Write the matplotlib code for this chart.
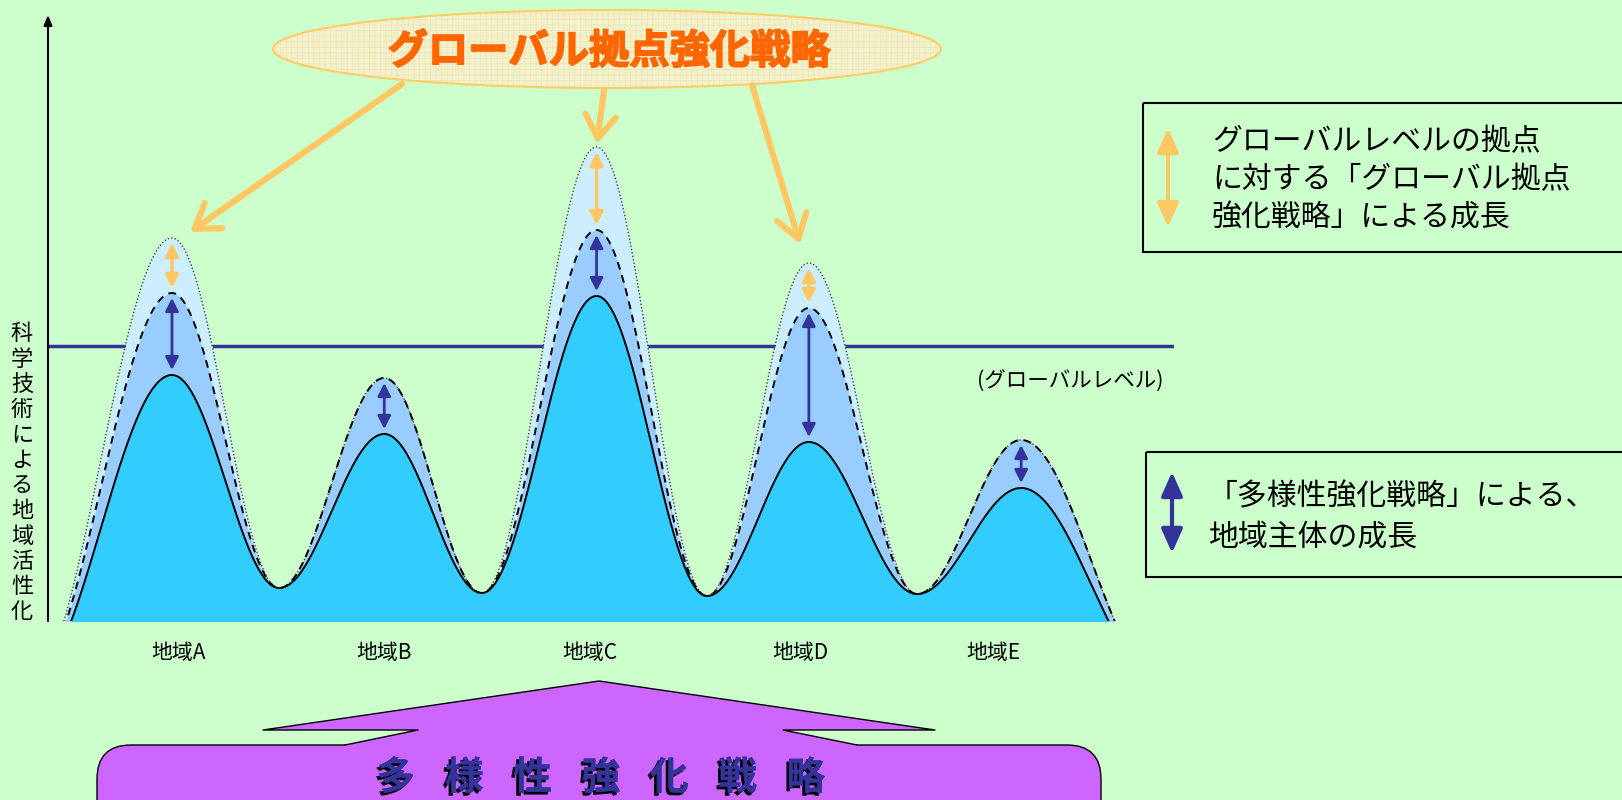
import numpy as np
import matplotlib
matplotlib.use("Agg")
import matplotlib.pyplot as plt
from matplotlib.patches import Ellipse, Rectangle, FancyBboxPatch, Polygon
import matplotlib.patheffects as pe

plt.rcParams['font.family'] = ['Noto Sans CJK JP', 'DejaVu Sans']
plt.rcParams['hatch.linewidth'] = 0.5

# regional activity levels (arbitrary units), peaks at region index 0..4
regions = ["地域A", "地域B", "地域C", "地域D", "地域E"]
peak_x = [0, 1, 2, 3, 4]
label_x = [0.03, 1.0, 1.97, 2.96, 3.87]
base_level = [24.6, 18.7, 32.5, 17.9, 13.3]       # current (solid)
diversity_level = [32.8, 24.3, 39.1, 31.3, 18.1]  # + diversity strategy (dashed)
global_hub_level = [38.3, 24.3, 47.4, 35.8, 18.1] # + global hub strategy (dotted)
valley_x = [0.505, 1.46, 2.52, 3.51]
valley_y = [3.3, 2.8, 2.5, 2.7]
edge_x = [-0.67, 4.66]
edge_y = -6
global_level = 27.5

BG = "#CCFFCC"
NAVY = "#333399"
ORANGE = "#FFC864"


def ridge(peaks, n=1500):
    kx = [edge_x[0]]
    ky = [edge_y]
    for i in range(len(peaks)):
        kx.append(peak_x[i])
        ky.append(peaks[i])
        if i < len(valley_x):
            kx.append(valley_x[i])
            ky.append(valley_y[i])
    kx.append(edge_x[1])
    ky.append(edge_y)
    kx = np.array(kx)
    ky = np.array(ky)
    x = np.linspace(kx[0], kx[-1], n)
    seg = np.clip(np.searchsorted(kx, x) - 1, 0, len(kx) - 2)
    t = (x - kx[seg]) / (kx[seg + 1] - kx[seg])
    y = ky[seg] + (ky[seg + 1] - ky[seg]) * (1 - np.cos(np.pi * t)) / 2
    return x, y


fig = plt.figure(figsize=(16.22, 8.0), dpi=100, facecolor=BG)

# main chart axes (pixel placement of the original)
ax = fig.add_axes([48 / 1622, 179 / 800, 1126 / 1622, 606 / 800])
ax.set_facecolor("none")
ax.set_xlim(-0.584, 4.72)
ax.set_ylim(0, 60.6)
for s in ax.spines.values():
    s.set_visible(False)
ax.set_yticks([])
ax.set_xticks(label_x)
ax.set_xticklabels(regions, fontsize=15)
ax.tick_params(axis="x", length=0, pad=15)

xg, yg = ridge(global_hub_level)
xd, yd = ridge(diversity_level)
xs, ys = ridge(base_level)
ax.fill_between(xg, yg, -10, color="#CCEEFF", lw=0, zorder=1)
ax.fill_between(xd, yd, -10, color="#99CCFF", lw=0, zorder=2)
ax.fill_between(xs, ys, -10, color="#33CCFF", lw=0, zorder=3)
ax.plot(xg, yg, color="#444444", lw=1, ls=(0, (1, 1.5)), zorder=4)
ax.plot(xd, yd, color="black", lw=1.4, ls=(0, (4, 3)), zorder=4)
ax.plot(xs, ys, color="black", lw=1.4, zorder=4)

ax.axhline(global_level, color=NAVY, lw=2.5, zorder=0.5)

# y axis with arrow head
ax.annotate("", xy=(0, 1), xytext=(0, 0), xycoords="axes fraction",
            arrowprops=dict(arrowstyle="-|>,head_length=0.6,head_width=0.25",
                            color="black", lw=1.5, shrinkA=0, shrinkB=0))

# growth arrows on each peak
gap = 0.5
small = "<|-|>,head_length=0.55,head_width=0.28"
for i in range(len(peak_x)):
    if global_hub_level[i] - diversity_level[i] > 1:
        ax.annotate("", xy=(peak_x[i], diversity_level[i] + gap),
                    xytext=(peak_x[i], global_hub_level[i] - gap),
                    arrowprops=dict(arrowstyle=small, color=ORANGE, lw=2.5,
                                    shrinkA=0, shrinkB=0, mutation_scale=14), zorder=5)
    ax.annotate("", xy=(peak_x[i], base_level[i] + gap),
                xytext=(peak_x[i], diversity_level[i] - gap),
                arrowprops=dict(arrowstyle=small, color=NAVY, lw=2,
                                shrinkA=0, shrinkB=0, mutation_scale=14), zorder=5)

# overlay in pixel coordinates for the annotations
ov = fig.add_axes([0, 0, 1, 1], zorder=5)
ov.set_xlim(0, 1622)
ov.set_ylim(800, 0)
ov.axis("off")
ov.patch.set_alpha(0)

for ch, yy in zip("科学技術による地域活性化", np.linspace(334, 612, 12)):
    ov.text(22, yy, ch, fontsize=16, ha="center", va="center")

ov.text(1070, 381, "(グローバルレベル)", fontsize=15.5, ha="center", va="center")

# title ellipse
ov.add_patch(Ellipse((607, 49), 668, 78, facecolor="#EDF3CC", edgecolor="#FFDDB0",
                     hatch="+++", lw=0))
ov.add_patch(Ellipse((607, 49), 668, 78, facecolor="none", edgecolor="#FFCC66", lw=1.5))
ov.text(609, 52, "グローバル拠点強化戦略", fontsize=29, fontweight="bold",
        color="#FF6600", ha="center", va="center",
        path_effects=[pe.withStroke(linewidth=1.2, foreground="#FF6600")])

pointer = dict(arrowstyle="->,head_length=0.75,head_width=0.5", color=ORANGE,
               lw=4.5, shrinkA=0, shrinkB=0, mutation_scale=22)
ov.annotate("", xy=(190, 232), xytext=(402, 84), arrowprops=pointer)
ov.annotate("", xy=(597, 144), xytext=(604, 90), arrowprops=pointer)
ov.annotate("", xy=(800, 244), xytext=(752, 85), arrowprops=pointer)

# legend boxes
ov.add_patch(Rectangle((1143, 103), 520, 149, facecolor="none", edgecolor="black", lw=1.5))
ov.annotate("", xy=(1168, 227), xytext=(1168, 128),
            arrowprops=dict(arrowstyle="<|-|>,head_length=0.9,head_width=0.4",
                            color=ORANGE, lw=3, shrinkA=0, shrinkB=0, mutation_scale=16))
for txt, yy in zip(["グローバルレベルの拠点", "に対する「グローバル拠点", "強化戦略」による成長"],
                   [142, 180, 218]):
    ov.text(1212, yy, txt, fontsize=21.5, ha="left", va="center")

ov.add_patch(Rectangle((1146, 452), 520, 125, facecolor="none", edgecolor="black", lw=1.5))
ov.annotate("", xy=(1172, 553), xytext=(1172, 472),
            arrowprops=dict(arrowstyle="<|-|>,head_length=0.9,head_width=0.4",
                            color=NAVY, lw=3, shrinkA=0, shrinkB=0, mutation_scale=16))
for txt, yy in zip(["「多様性強化戦略」による、", "地域主体の成長"], [497, 537]):
    ov.text(1208, yy, txt, fontsize=21.5, ha="left", va="center")

# bottom banner arrow
PURPLE = "#CC66FF"
ov.add_patch(FancyBboxPatch((97, 745), 1004, 110, boxstyle="round,pad=0,rounding_size=34",
                            facecolor=PURPLE, edgecolor="black", lw=1))
head = [(345, 745), (418, 730), (263, 730), (599, 681), (935, 730), (783, 730), (857, 745)]
ov.add_patch(Polygon(head + [(857, 748), (345, 748)], closed=True, facecolor=PURPLE, lw=0))
hx, hy = zip(*head)
ov.plot(hx, hy, color="black", lw=1)

for ch, xx in zip("多様性強化戦略", np.linspace(396, 806, 7)):
    ov.text(xx, 778, ch, fontsize=28, fontweight="bold", color=NAVY, ha="center", va="center",
            path_effects=[pe.withSimplePatchShadow(offset=(-2, -2), shadow_rgbFace="black", alpha=1),
                          pe.Normal()])

fig.savefig("out.png", dpi=100, facecolor=BG)
